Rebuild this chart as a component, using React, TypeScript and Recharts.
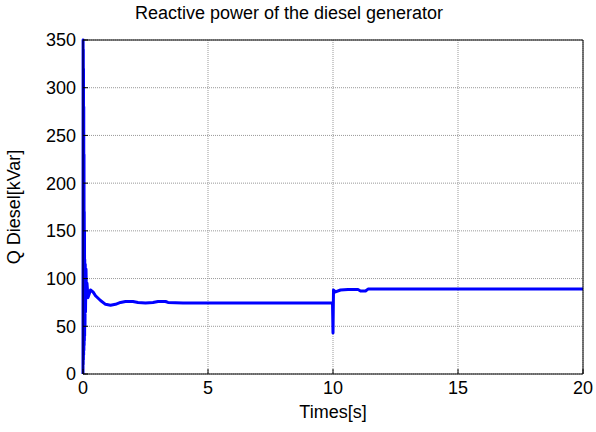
import React from "react"
import { LineChart, Line, XAxis, YAxis, CartesianGrid } from "recharts"

const times = [
  0, 0.004, 0.008, 0.012, 0.016, 0.02, 0.025, 0.03, 0.035, 0.04, 0.045, 0.05, 0.055,
  0.06, 0.065, 0.07, 0.08, 0.09, 0.1, 0.12, 0.14, 0.16,
  0.2, 0.3, 0.4, 0.5, 0.7, 0.9, 1.1, 1.3, 1.5, 1.7, 2.0, 2.2, 2.5, 2.8, 3.0, 3.3, 3.4,
  4, 6, 8, 9.98, 10.0, 10.02, 10.1, 10.3, 10.6, 11.0, 11.1, 11.3, 11.4, 15, 20,
]
const qDiesel = [
  0, 350, 10, 340, 15, 320, 20, 280, 25, 230, 30, 170, 35,
  150, 40, 120, 50, 115, 65, 110, 80, 95,
  80, 88, 86, 82, 77, 73, 72, 73, 75, 76, 76, 75, 74.5, 75, 76, 76, 75,
  74.5, 74.5, 74.5, 74.5, 43, 88, 86, 88, 88.5, 88.5, 87, 87, 89, 89, 89,
]
const xTicks = [0, 5, 10, 15, 20]
const yTicks = [0, 50, 100, 150, 200, 250, 300, 350]

const data = times.map((t, i) => ({ t, q: qDiesel[i] }))

const font = "'Liberation Sans', Arial, sans-serif"

export default function App() {
  return (
    <div style={{ position: "absolute", left: 0, top: 0, width: 596, height: 432, background: "#fff", fontFamily: font }}>
      <div style={{ position: "absolute", top: 3, left: 0, width: 578, textAlign: "center", fontSize: 18, color: "#000" }}>
        Reactive power of the diesel generator
      </div>
      <LineChart width={596} height={432} data={data} margin={{ top: 39, right: 12, bottom: 0, left: 0 }}>
        <CartesianGrid xAxisId="b" yAxisId="l" stroke="#999" strokeDasharray="1 1" />
        <XAxis
          dataKey="t" type="number" domain={[0, 20]} ticks={xTicks} xAxisId="b"
          height={58} tickSize={-5} tickMargin={12} stroke="#000"
          tick={{ fill: "#000", fontSize: 18, fontFamily: font }}
          label={{ value: "Times[s]", position: "insideBottom", offset: 14, fill: "#000", fontSize: 18, fontFamily: font }}
        />
        <XAxis dataKey="t" type="number" domain={[0, 20]} ticks={xTicks} xAxisId="top" orientation="top"
          height={1} tick={false} tickSize={-5} stroke="#000" />
        <YAxis
          type="number" domain={[0, 350]} ticks={yTicks} yAxisId="l" width={83}
          tickSize={-5} tickMargin={12} stroke="#000" interval={0}
          tick={{ fill: "#000", fontSize: 18, fontFamily: font }}
          label={{ value: "Q Diesel[kVar]", angle: -90, position: "insideLeft", offset: 14, style: { textAnchor: "middle" }, fill: "#000", fontSize: 18, fontFamily: font }}
        />
        <YAxis type="number" domain={[0, 350]} ticks={yTicks} yAxisId="r" orientation="right"
          width={1} tick={false} tickSize={-5} stroke="#000" />
        <Line xAxisId="b" yAxisId="l" type="linear" dataKey="q" stroke="#0000ff" strokeWidth={3}
          dot={false} isAnimationActive={false} strokeLinejoin="round" />
      </LineChart>
    </div>
  )
}
